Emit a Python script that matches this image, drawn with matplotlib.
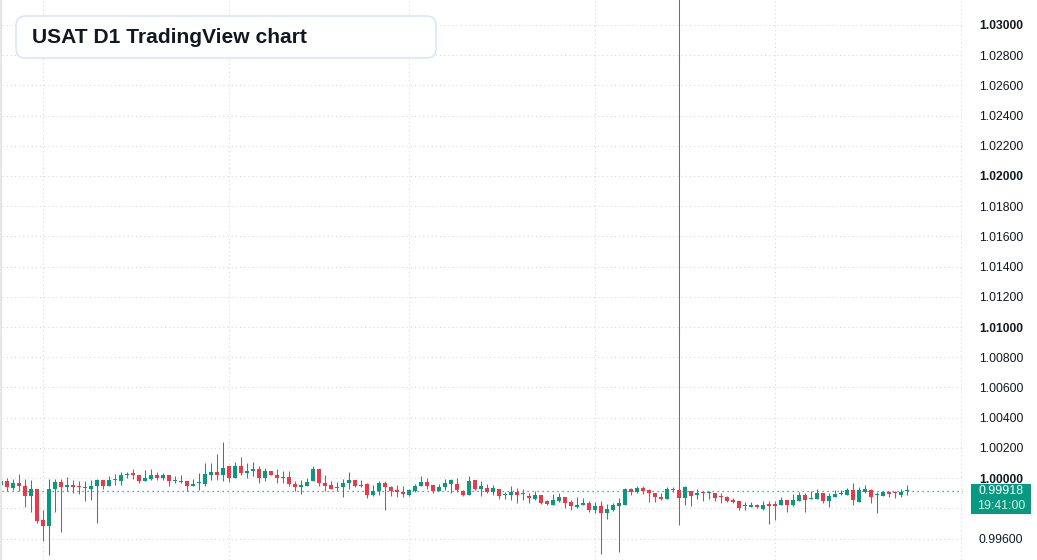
import matplotlib
matplotlib.use("Agg")
import matplotlib.pyplot as plt
from matplotlib.patches import FancyBboxPatch, Rectangle

plt.rcParams['font.family'] = ['Liberation Sans', 'DejaVu Sans']

title = "USAT D1 TradingView chart"

opens = [
    0.99952, 0.99982, 0.99934, 0.99969, 0.99949, 0.99879, 0.99930, 0.99721, 0.99681, 0.99925,
    0.99976, 0.99941, 0.99956, 0.99945, 0.99934, 0.99930, 0.99945, 0.99989, 0.99945, 0.99991,
    0.99978, 1.00018, 1.00031, 1.00022, 0.99978, 0.99996, 1.00022, 1.00004, 1.00022, 0.99980,
    0.99978, 0.99982, 0.99945, 0.99967, 0.99963, 1.00018, 1.00042, 1.00018, 1.00081, 0.99998,
    1.00081, 1.00037, 1.00044, 1.00062, 0.99998, 1.00046, 1.00022, 0.99998, 1.00009, 0.99963,
    0.99938, 0.99949, 0.99978, 1.00062, 0.99969, 0.99954, 0.99938, 0.99938, 0.99965, 0.99989,
    0.99956, 0.99958, 0.99890, 0.99914, 0.99969, 0.99943, 0.99923, 0.99910, 0.99890, 0.99916,
    0.99945, 0.99976, 0.99956, 0.99912, 0.99938, 0.99963, 0.99963, 0.99916, 0.99890, 0.99989,
    0.99930, 0.99936, 0.99910, 0.99930, 0.99888, 0.99886, 0.99910, 0.99899, 0.99883, 0.99864,
    0.99890, 0.99850, 0.99824, 0.99850, 0.99877, 0.99844, 0.99811, 0.99820, 0.99837, 0.99791,
    0.99817, 0.99771, 0.99791, 0.99817, 0.99824, 0.99930, 0.99910, 0.99936, 0.99923, 0.99903,
    0.99877, 0.99864, 0.99925, 0.99923, 0.99870, 0.99916, 0.99886, 0.99905, 0.99901, 0.99903,
    0.99879, 0.99877, 0.99857, 0.99850, 0.99815, 0.99811, 0.99824, 0.99798, 0.99824, 0.99824,
    0.99824, 0.99857, 0.99824, 0.99850, 0.99890, 0.99866, 0.99864, 0.99903, 0.99850, 0.99877,
    0.99894, 0.99890, 0.99923, 0.99844, 0.99910, 0.99923, 0.99888, 0.99883, 0.99910, 0.99905,
    0.99890, 0.99912]

closes = [
    0.99982, 0.99941, 0.99969, 0.99945, 0.99879, 0.99930, 0.99714, 0.99681, 0.99930, 0.99976,
    0.99941, 0.99956, 0.99938, 0.99941, 0.99938, 0.99949, 0.99989, 0.99945, 0.99989, 0.99987,
    1.00022, 1.00029, 1.00018, 0.99978, 1.00002, 1.00022, 1.00004, 1.00022, 0.99978, 0.99984,
    0.99982, 0.99945, 0.99963, 0.99971, 1.00029, 1.00042, 1.00018, 1.00068, 0.99998, 1.00081,
    1.00037, 1.00046, 1.00062, 0.99998, 1.00046, 1.00018, 0.99998, 1.00009, 0.99958, 0.99938,
    0.99954, 0.99974, 1.00062, 0.99965, 0.99949, 0.99930, 0.99943, 0.99969, 0.99989, 0.99949,
    0.99952, 0.99890, 0.99916, 0.99969, 0.99938, 0.99916, 0.99905, 0.99892, 0.99923, 0.99949,
    0.99976, 0.99949, 0.99912, 0.99943, 0.99969, 0.99989, 0.99919, 0.99890, 0.99982, 0.99930,
    0.99949, 0.99910, 0.99936, 0.99879, 0.99892, 0.99910, 0.99890, 0.99894, 0.99866, 0.99890,
    0.99837, 0.99826, 0.99857, 0.99877, 0.99837, 0.99813, 0.99824, 0.99837, 0.99791, 0.99817,
    0.99771, 0.99798, 0.99824, 0.99833, 0.99930, 0.99910, 0.99936, 0.99916, 0.99901, 0.99872,
    0.99864, 0.99930, 0.99921, 0.99870, 0.99943, 0.99883, 0.99903, 0.99901, 0.99905, 0.99870,
    0.99875, 0.99850, 0.99844, 0.99804, 0.99820, 0.99824, 0.99811, 0.99824, 0.99820, 0.99820,
    0.99857, 0.99824, 0.99857, 0.99890, 0.99857, 0.99870, 0.99903, 0.99850, 0.99883, 0.99897,
    0.99899, 0.99923, 0.99857, 0.99923, 0.99930, 0.99877, 0.99892, 0.99910, 0.99897, 0.99901,
    0.99910, 0.99918]

highs = [
    0.99989, 1.00000, 0.99996, 1.00029, 0.99996, 0.99989, 0.99930, 0.99787, 0.99996, 0.99996,
    0.99996, 1.00009, 0.99989, 0.99982, 0.99978, 0.99989, 0.99996, 0.99989, 1.00015, 1.00029,
    1.00040, 1.00042, 1.00062, 1.00022, 1.00051, 1.00062, 1.00040, 1.00033, 1.00022, 1.00015,
    1.00022, 0.99982, 0.99996, 1.00035, 1.00099, 1.00099, 1.00161, 1.00240, 1.00081, 1.00106,
    1.00141, 1.00101, 1.00108, 1.00081, 1.00068, 1.00046, 1.00062, 1.00046, 1.00046, 0.99982,
    0.99989, 1.00000, 1.00081, 1.00062, 1.00022, 0.99982, 0.99974, 0.99996, 1.00042, 0.99989,
    0.99989, 0.99969, 0.99956, 0.99982, 0.99982, 0.99949, 0.99956, 0.99949, 0.99930, 0.99963,
    1.00015, 1.00002, 0.99956, 0.99963, 0.99996, 0.99996, 1.00002, 0.99923, 1.00015, 0.99989,
    0.99982, 0.99963, 0.99956, 0.99930, 0.99910, 0.99949, 0.99936, 0.99930, 0.99901, 0.99916,
    0.99890, 0.99857, 0.99897, 0.99903, 0.99877, 0.99857, 0.99877, 0.99870, 0.99850, 0.99844,
    0.99850, 0.99831, 0.99837, 0.99870, 0.99936, 0.99936, 0.99949, 0.99949, 0.99930, 0.99903,
    0.99903, 0.99943, 0.99943, 1.04000, 0.99949, 0.99916, 0.99930, 0.99916, 0.99916, 0.99903,
    0.99903, 0.99883, 0.99870, 0.99850, 0.99844, 0.99844, 0.99831, 0.99850, 0.99850, 0.99850,
    0.99877, 0.99857, 0.99897, 0.99910, 0.99903, 0.99916, 0.99930, 0.99903, 0.99903, 0.99923,
    0.99923, 0.99936, 0.99969, 0.99943, 0.99956, 0.99930, 0.99910, 0.99916, 0.99916, 0.99916,
    0.99930, 0.99956]

lows = [
    0.99945, 0.99916, 0.99923, 0.99912, 0.99806, 0.99773, 0.99703, 0.99582, 0.99490, 0.99773,
    0.99641, 0.99916, 0.99901, 0.99894, 0.99846, 0.99857, 0.99701, 0.99930, 0.99945, 0.99952,
    0.99956, 1.00004, 0.99991, 0.99971, 0.99978, 0.99989, 0.99989, 0.99989, 0.99945, 0.99965,
    0.99971, 0.99916, 0.99945, 0.99923, 0.99945, 0.99989, 0.99989, 0.99982, 0.99976, 0.99998,
    1.00022, 1.00004, 1.00011, 0.99965, 0.99982, 1.00018, 0.99971, 0.99971, 0.99949, 0.99916,
    0.99894, 0.99949, 0.99978, 0.99945, 0.99912, 0.99930, 0.99916, 0.99872, 0.99930, 0.99938,
    0.99938, 0.99866, 0.99879, 0.99886, 0.99787, 0.99879, 0.99872, 0.99872, 0.99879, 0.99910,
    0.99945, 0.99930, 0.99901, 0.99912, 0.99923, 0.99901, 0.99905, 0.99879, 0.99890, 0.99923,
    0.99879, 0.99901, 0.99890, 0.99864, 0.99864, 0.99857, 0.99837, 0.99853, 0.99837, 0.99853,
    0.99831, 0.99820, 0.99820, 0.99844, 0.99804, 0.99791, 0.99804, 0.99820, 0.99778, 0.99771,
    0.99501, 0.99732, 0.99784, 0.99514, 0.99824, 0.99890, 0.99903, 0.99897, 0.99844, 0.99844,
    0.99853, 0.99864, 0.99910, 0.99690, 0.99824, 0.99817, 0.99864, 0.99850, 0.99864, 0.99850,
    0.99837, 0.99844, 0.99837, 0.99791, 0.99791, 0.99811, 0.99804, 0.99791, 0.99699, 0.99725,
    0.99824, 0.99778, 0.99817, 0.99850, 0.99778, 0.99864, 0.99864, 0.99837, 0.99811, 0.99877,
    0.99890, 0.99890, 0.99824, 0.99844, 0.99903, 0.99837, 0.99771, 0.99883, 0.99877, 0.99870,
    0.99877, 0.99890]

tick_values = [0.996, 0.998, 1.000, 1.002, 1.004, 1.006, 1.008, 1.010, 1.012, 1.014,
               1.016, 1.018, 1.020, 1.022, 1.024, 1.026, 1.028, 1.030]
tick_labels = ["0.99600", "", "1.00000", "1.00200", "1.00400", "1.00600", "1.00800",
               "1.01000", "1.01200", "1.01400", "1.01600", "1.01800", "1.02000",
               "1.02200", "1.02400", "1.02600", "1.02800", "1.03000"]
bold_labels = ["1.00000", "1.01000", "1.02000", "1.03000"]
month_lines = [7, 38, 68, 99, 129, 160]
last_price_label = "0.99918"
last_time_label = "19:41:00"

UP = "#089981"
DOWN = "#f23645"
GRID = "#d4d6dc"
TEXT = "#131722"

W, H = 1037, 560
fig = plt.figure(figsize=(W / 100, H / 100), dpi=100)
fig.patch.set_facecolor("white")

ax_left_px, ax_right_px = 2, 963
ax = fig.add_axes([ax_left_px / W, 0, (ax_right_px - ax_left_px) / W, 1])
ax.set_facecolor("white")
for s in ax.spines.values():
    s.set_visible(False)

# x: candle i centred at pixel 6*i + 1.33
ax.set_xlim((ax_left_px - 1.33) / 6, (ax_right_px - 1.33) / 6)
ax.set_ylim(0.99458, 1.03165)

n = len(closes)
xs = list(range(n))
colors = [UP if c >= o else DOWN for o, c in zip(opens, closes)]

# grid
for v in tick_values:
    ax.axhline(v, color=GRID, lw=0.75, ls=(0, (1, 3)), zorder=0)
for m in month_lines:
    ax.axvline(m, color=GRID, lw=0.75, ls=(0, (1, 3)), zorder=0, clip_on=False)

# wicks
ax.vlines(xs, lows, highs, colors=colors, linewidth=0.75, zorder=2)
# bodies
min_h = 0.00007
bottoms, heights = [], []
for o, c in zip(opens, closes):
    lo, hi = min(o, c), max(o, c)
    if hi - lo < min_h:
        mid = (hi + lo) / 2
        lo, hi = mid - min_h / 2, mid + min_h / 2
    bottoms.append(lo)
    heights.append(hi - lo)
ax.bar(xs, heights, bottom=bottoms, width=0.67, color=colors, linewidth=0, zorder=3)

# last price line
ax.axhline(closes[-1], color=UP, lw=0.9, ls=(0, (1, 3)), zorder=1)

# y axis on right
ax.yaxis.tick_right()
ax.set_yticks(tick_values)
ax.set_yticklabels(tick_labels)
ax.tick_params(axis="y", length=0, pad=11.5, labelsize=8.7, labelcolor=TEXT)
for lbl in ax.get_yticklabels():
    if lbl.get_text() in bold_labels:
        lbl.set_fontweight("bold")
ax.set_xticks([])

# price label box
fig.patches.append(Rectangle((971 / W, 1 - 514 / H), 60 / W, 30 / H,
                             transform=fig.transFigure, facecolor=UP,
                             edgecolor="none", zorder=5))
fig.text(1001 / W, 1 - 491.5 / H, last_price_label, color="white", fontsize=8.9,
         ha="center", va="center", zorder=6)
fig.text(1001 / W, 1 - 506 / H, last_time_label, color="#d4f0ea", fontsize=8.9,
         ha="center", va="center", zorder=6)

# left border strip
fig.patches.append(Rectangle((0, 0), 2 / W, 1, transform=fig.transFigure,
                             facecolor="#e6e6e6", edgecolor="none", zorder=5))

# title box
fig.patches.append(FancyBboxPatch((16 / W, 1 - 58 / H), 420 / W, 42 / H,
                                  boxstyle="round,pad=0,rounding_size=0.009",
                                  transform=fig.transFigure, facecolor="white",
                                  edgecolor="#d3e3f8", linewidth=1.0, zorder=5,
                                  mutation_aspect=W / H))
fig.text(32 / W, 1 - 37.5 / H, title, color=TEXT, fontsize=15.1, fontweight="bold",
         ha="left", va="center", zorder=6)

fig.savefig("out.png", dpi=100, facecolor="white")
